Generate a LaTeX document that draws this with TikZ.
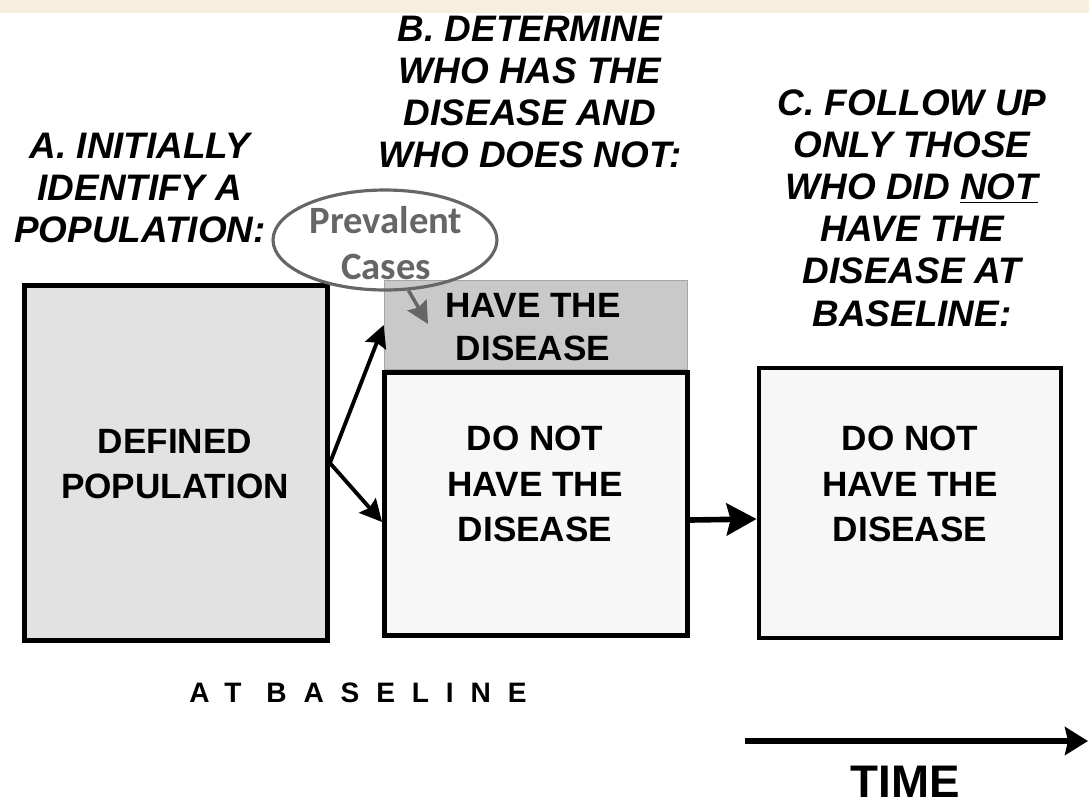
\documentclass[tikz,border=0pt]{standalone}
\usepackage{fontspec}
\setmainfont{Liberation Sans}
\newfontfamily\handfont{Carlito}
\usepackage{xcolor}
\usepackage{tikz}
\usetikzlibrary{arrows.meta}
\usetikzlibrary{shapes.geometric}

\definecolor{slidebeige}{HTML}{F7EEDD}
\definecolor{popgray}{HTML}{E2E2E2}
\definecolor{hasgray}{HTML}{C9C9C9}
\definecolor{palegray}{HTML}{F7F7F7}
\definecolor{prevgray}{HTML}{666666}

\tikzset{
  box/.style={rectangle, draw, line width=2.8pt, minimum width=6.06cm},
  boxtext/.style={align=center, font=\bfseries\fontsize{20}{26}\selectfont},
  heading/.style={align=center, font=\bfseries\itshape\fontsize{21}{24}\selectfont}
}

\begin{document}
\begin{tikzpicture}[->,>={Stealth[length=0.44cm,width=0.44cm,inset=0.06cm]}, x=0.02cm, y=-0.02cm]

    \useasboundingbox (0,0) rectangle (1089,809);
    \fill[-, slidebeige] (0,0) rectangle (1089,13);

    \node[heading] (stepA) at (140,188) {A. INITIALLY\\IDENTIFY A\\POPULATION:};
    \node[heading] (stepB) at (530,92) {B. DETERMINE\\WHO HAS THE\\DISEASE AND\\WHO DOES NOT:};
    \node[heading] (stepC) at (912,208) {C. FOLLOW UP\\ONLY THOSE\\WHO DID \underline{NOT}\\HAVE THE\\DISEASE AT\\BASELINE:};

    \node[box,
          fill = popgray,
          minimum height = 7.1cm
          ] (pop) at (176,463) {};
    \node[boxtext] (popText) at (175,464) {DEFINED\\POPULATION};

    \node[rectangle,
          draw = gray!70,
          line width = 1pt,
          fill = hasgray,
          minimum width = 6.06cm,
          minimum height = 1.78cm
          ] (has) at (536,325) {};
    \node[boxtext, font=\bfseries\fontsize{20}{24}\selectfont] (hasText) at (533,327) {HAVE THE\\DISEASE};

    \node[box,
          fill = palegray,
          minimum height = 5.26cm
          ] (nothas) at (536,504) {};
    \node[boxtext] (nothasText) at (535,484) {DO NOT\\HAVE THE\\DISEASE};

    \node[box,
          fill = palegray,
          minimum width = 6.04cm,
          minimum height = 5.4cm
          ] (follow) at (910,503) {};
    \node[boxtext] (followText) at (910,484) {DO NOT\\HAVE THE\\DISEASE};

    \node[ellipse,
          draw = prevgray,
          line width = 1.8pt,
          minimum width = 4.48cm,
          minimum height = 2cm
          ] (prev) at (385,240) {};
    \node[text=prevgray, align=center, font=\handfont\bfseries\fontsize{22}{26}\selectfont] (prevText) at (386,243) {Prevalent\\Cases};
    \coordinate (pc) at (428,324);

    \coordinate (t0) at (745,741);
    \coordinate (t1) at (1088,741);
    \node[font=\bfseries\fontsize{26}{30}\selectfont] (time) at (905,782) {TIME};
    \node[font=\bfseries\fontsize{16}{18}\selectfont\addfontfeature{LetterSpace=60}] (base) at (358,693) {AT BASELINE};

    \path[line width=2.2pt]
    %baseline split
    (pop.east) edge [] (has.west)
    (pop.east) edge [] ([yshift=-0.36cm]nothas.west)
    %follow up
    ([yshift=-0.32cm]nothas.east) edge [line width=3.2pt, -{Stealth[length=0.6cm,width=0.64cm,inset=0.08cm]}] ([yshift=-0.32cm]follow.west);

    \draw[prevgray, line width=2pt] (prev.-65) -- (pc);
    \draw[line width=3.2pt, -{Stealth[length=0.46cm,width=0.56cm,inset=0.06cm]}] (t0) -- (t1);

\end{tikzpicture}
\end{document}
